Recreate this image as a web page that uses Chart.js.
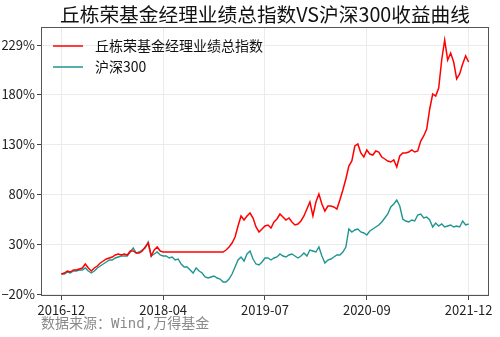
<!DOCTYPE html>
<html>
<head>
<meta charset="utf-8">
<script src="https://cdn.jsdelivr.net/npm/chart.js@4"></script>
<style>
  body { margin: 0; background: #fff; }
</style>
</head>
<body>
<canvas id="lineChart" width="500" height="337"></canvas>
<script>
// tick labels
var tickLabels = ["2016-12", "2018-04", "2019-07", "2020-09", "2021-12"];
var yTicks = [-20, 30, 80, 130, 180, 229];

var chartTitle = "丘栋荣基金经理业绩总指数VS沪深300收益曲线";
var seriesNames = ["丘栋荣基金经理业绩总指数", "沪深300"];

// cumulative return (%), sampled evenly from 2016-12 to 2021-12
var fundIndex = [
    0, 1, 3, 2, 4, 4, 5, 6, 10, 6, 3, 6, 8, 11, 13, 15, 16, 17, 19, 20,
    19, 20, 19, 23, 23, 21, 21, 23, 27, 31, 18, 24, 27, 23, 22, 22,
    22, 22, 22, 22, 22, 22, 22, 22, 22, 22, 22, 22, 22, 22, 22, 22, 22, 22, 22,
    24, 27, 31, 37, 48, 58, 54, 58, 61, 56, 47, 42, 45, 48, 49, 46, 52, 55, 60, 57, 54, 56, 52, 49, 50,
    53, 58, 65, 72, 58, 72, 80, 70, 63, 68, 68, 67, 65, 74, 84, 95, 108, 113, 128, 130,
    121, 117, 124, 120, 119, 123, 122, 117, 115, 113, 112, 114, 107, 118, 121, 121, 122, 124, 122, 123,
    133, 138, 145, 165, 180, 178, 186, 214, 234, 214, 221, 212, 195, 200, 210, 218, 212
];

var hs300 = [
    0, 0, 2, 1, 3, 3, 4, 4, 6, 3, 1, 3, 6, 8, 10, 12, 14, 14, 16, 17,
    18, 18, 18, 22, 26, 21, 22, 24, 26, 32, 18, 20, 22, 19, 18, 18,
    16, 17, 14, 15, 10, 7, 7, 4, 1, 6, 3, 1, -3, -4, -3, -2, -4, -5, -8,
    -8, -5, 0, 7, 14, 17, 13, 20, 23, 15, 10, 9, 12, 16, 16, 14, 16, 17, 20, 18, 17, 19, 20, 18, 16,
    18, 21, 18, 24, 23, 22, 27, 18, 11, 14, 15, 17, 19, 19, 22, 27, 45, 42, 44, 45,
    42, 41, 39, 43, 45, 47, 49, 52, 56, 60, 67, 70, 74, 68, 55, 53, 52, 54, 53, 59,
    60, 56, 57, 54, 47, 51, 48, 50, 47, 48, 49, 47, 48, 47, 53, 49, 50
];

var lastIdx = fundIndex.length - 1;
var pad = lastIdx * 0.05;

function toPoints(arr) {
    return arr.map(function (v, i) { return { x: i, y: v }; });
}

// title, legend inside the plot, frame and source note
var decorations = {
    id: "decorations",
    afterDatasetsDraw: function (chart) {
        var ctx = chart.ctx;
        var area = chart.chartArea;
        ctx.save();

        ctx.strokeStyle = "#555";
        ctx.lineWidth = 1;
        ctx.strokeRect(area.left + 0.5, area.top + 0.5, area.right - area.left - 1, area.bottom - area.top - 1);

        // title sized to span about 410px
        ctx.textBaseline = "middle";
        ctx.textAlign = "center";
        ctx.fillStyle = "#111";
        ctx.font = "20px 'Noto Sans CJK SC'";
        var size = Math.min(24, 20 * 410 / ctx.measureText(chartTitle).width);
        ctx.font = size.toFixed(1) + "px 'Noto Sans CJK SC'";
        ctx.fillText(chartTitle, (area.left + area.right) / 2, 15);

        ctx.font = "14px 'Noto Sans CJK SC'";
        ctx.textAlign = "left";
        chart.data.datasets.forEach(function (ds, i) {
            var y = area.top + 19 + i * 21;
            ctx.strokeStyle = ds.borderColor;
            ctx.lineWidth = 1.5;
            ctx.beginPath();
            ctx.moveTo(area.left + 12, y);
            ctx.lineTo(area.left + 42, y);
            ctx.stroke();
            ctx.fillStyle = "#111";
            ctx.fillText(ds.label, area.left + 54, y);
        });

        ctx.font = "14px 'DejaVu Sans Mono', 'Noto Sans CJK SC'";
        ctx.fillStyle = "#8a8a8a";
        ctx.fillText("数据来源：Wind,万得基金", 41, 324);
        ctx.restore();
    }
};

var tickFont = { family: "'Noto Sans CJK SC'", size: 13 };

var chart1 = new Chart(document.getElementById("lineChart"), {
    type: "line",
    data: {
        datasets: [
            {
                label: seriesNames[0],
                data: toPoints(fundIndex),
                borderColor: "#ff0000",
                borderWidth: 1.5
            },
            {
                label: seriesNames[1],
                data: toPoints(hs300),
                borderColor: "#1f9590",
                borderWidth: 1.4
            }
        ]
    },
    options: {
        responsive: false,
        animation: false,
        layout: { padding: { top: 27, right: 11 } },
        elements: {
            point: { radius: 0 },
            line: { tension: 0 }
        },
        plugins: {
            legend: { display: false },
            tooltip: { enabled: false }
        },
        scales: {
            x: {
                type: "linear",
                min: -pad,
                max: lastIdx + pad,
                afterBuildTicks: function (scale) {
                    scale.ticks = tickLabels.map(function (t, i) {
                        return { value: i * lastIdx / (tickLabels.length - 1) };
                    });
                },
                afterFit: function (scale) { scale.height = 41; },
                border: { display: false },
                grid: { color: "#ebebeb", tickLength: 4, tickColor: "#444" },
                ticks: {
                    color: "#222",
                    font: tickFont,
                    padding: 2,
                    maxRotation: 0,
                    autoSkip: false,
                    callback: function (v, i) { return tickLabels[i]; }
                }
            },
            y: {
                min: -22,
                max: 247,
                afterBuildTicks: function (scale) {
                    scale.ticks = yTicks.map(function (v) { return { value: v }; });
                },
                afterFit: function (scale) { scale.width = 41; },
                border: { display: false },
                grid: { color: "#ebebeb", tickLength: 4, tickColor: "#444" },
                ticks: {
                    color: "#222",
                    font: tickFont,
                    padding: 2,
                    callback: function (v) { return (v < 0 ? "\u2212" + (-v) : v) + "%"; }
                }
            }
        }
    },
    plugins: [decorations]
});
</script>
</body>
</html>
